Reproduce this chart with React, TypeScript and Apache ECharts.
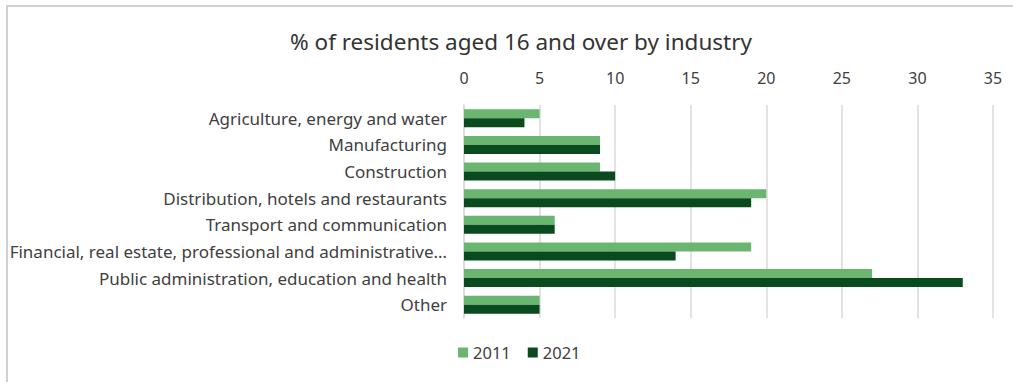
import React, { useEffect, useRef } from "react";
import * as echarts from "echarts";

const categories = [
  "Agriculture, energy and water",
  "Manufacturing",
  "Construction",
  "Distribution, hotels and restaurants",
  "Transport and communication",
  "Financial, real estate, professional and administrative services",
  "Public administration, education and health",
  "Other",
];
const values2011 = [5, 9, 9, 20, 6, 19, 27, 5];
const values2021 = [4, 9, 10, 19, 6, 14, 33, 5];
const seriesNames = ["2011", "2021"];
const xTicks = { min: 0, max: 35, interval: 5 };

const FONT = "'Noto Sans', sans-serif";

export default function App() {
  const ref = useRef<HTMLDivElement>(null);
  useEffect(() => {
    if (!ref.current) return;
    const chart = echarts.init(ref.current, null, { renderer: "svg" });
    chart.setOption({
      animation: false,
      backgroundColor: "#ffffff",
      title: {
        text: "% of residents aged 16 and over by industry",
        left: 285,
        top: 25,
        textStyle: { fontFamily: FONT, fontSize: 22.5, fontWeight: "normal", color: "#333333" },
      },
      graphic: [
        {
          type: "rect",
          shape: { x: 7, y: 6, width: 1100, height: 500 },
          style: { fill: "none", stroke: "#d0d0d0", lineWidth: 2 },
          silent: true,
        },
      ],
      legend: {
        data: seriesNames,
        bottom: 16,
        left: 453,
        itemWidth: 10,
        itemHeight: 10,
        itemGap: 17,
        icon: "rect",
        textStyle: { fontFamily: FONT, fontSize: 16.5, color: "#404040" },
      },
      grid: { left: 464, right: 20, top: 105, bottom: 64, containLabel: false },
      xAxis: {
        type: "value",
        position: "top",
        min: xTicks.min,
        max: xTicks.max,
        interval: xTicks.interval,
        axisLine: { show: false },
        axisTick: { show: false },
        axisLabel: { fontFamily: FONT, fontSize: 16, color: "#404040", margin: 19 },
        splitLine: { lineStyle: { color: "#d9d9d9", width: 1.5 } },
      },
      yAxis: {
        type: "category",
        inverse: true,
        data: categories,
        axisLine: { show: true, lineStyle: { color: "#d9d9d9", width: 1.5 } },
        axisTick: { show: false },
        axisLabel: {
          fontFamily: FONT,
          fontSize: 17,
          color: "#404040",
          margin: 17,
          width: 439,
          overflow: "truncate",
          ellipsis: "…",
        },
      },
      series: [
        {
          name: seriesNames[0],
          type: "bar",
          data: values2011,
          barGap: "0%",
          barCategoryGap: "32%",
          itemStyle: { color: "#6ab56f" },
        },
        {
          name: seriesNames[1],
          type: "bar",
          data: values2021,
          barGap: "0%",
          barCategoryGap: "32%",
          itemStyle: { color: "#0a4a1f" },
        },
      ],
    });
    return () => chart.dispose();
  }, []);
  return (
    <div
      ref={ref}
      style={{ position: "absolute", left: 0, top: 0, width: 1013, height: 382 }}
    />
  );
}
